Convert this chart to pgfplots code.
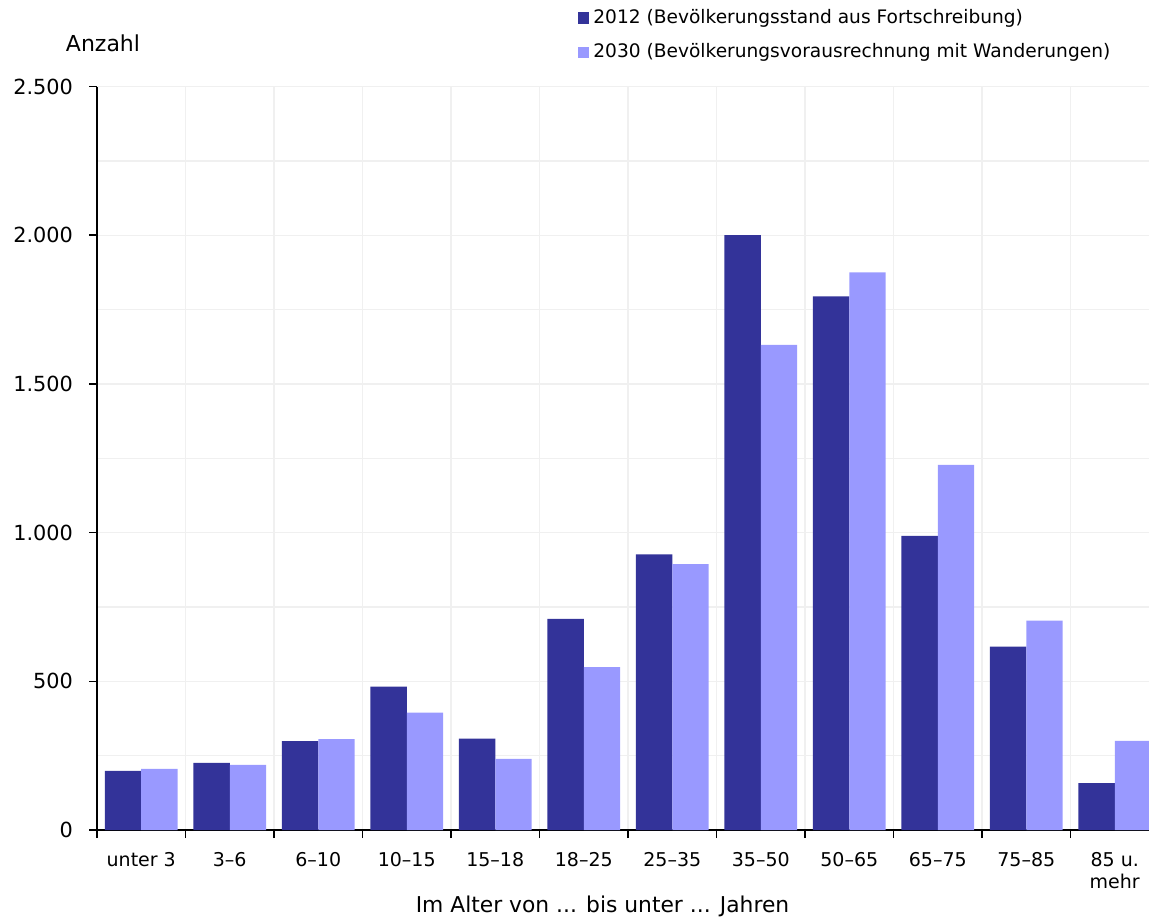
\documentclass[border=0pt]{standalone}
\usepackage{pgfplots}
\pgfplotsset{compat=1.18}
\usepackage{fontspec}
\setmainfont{DejaVu Sans}
\definecolor{darkbar}{HTML}{333399}
\definecolor{lightbar}{HTML}{9999FF}
\definecolor{gridc}{HTML}{F0F0F0}
\begin{document}
\begin{tikzpicture}
\useasboundingbox (-48.5pt,-44pt) rectangle (526pt,415pt);
\begin{axis}[
  at={(0pt,0pt)}, anchor=south west,
  scale only axis, width=526pt, height=371.75pt,
  xmin=-0.5, xmax=11.387, ymin=0, ymax=2500,
  axis x line*=bottom, axis y line*=left,
  axis line style={-, line width=0.9pt, black},
  tick align=outside, major tick length=4pt, minor tick length=0pt,
  tick style={black, line width=0.8pt},
  xtick={-0.5,0.5,...,11.5}, xticklabels={},
  extra x ticks={0,1,2,3,4,5,6,7,8,9,10,11},
  extra x tick labels={unter 3,3–6,6–10,10–15,15–18,18–25,25–35,35–50,50–65,65–75,75–85,85 u.\\mehr},
  extra x tick style={major tick length=0pt, grid=none,
    tick label style={align=center, font=\fontsize{9.5}{11}\selectfont, yshift=-7.5pt}},
  ytick={0,500,...,2500}, minor ytick={250,750,...,2250},
  xmajorgrids, ymajorgrids, yminorgrids,
  major grid style={gridc, line width=0.7pt},
  minor grid style={gridc, line width=0.7pt},
  yticklabel style={font=\fontsize{10.4}{12}\selectfont, xshift=-4.5pt},
  /pgf/number format/assume math mode=true,
  /pgf/number format/1000 sep={.},
  scaled y ticks=false,
  ylabel={Anzahl}, xlabel={Im Alter von ... bis unter ... Jahren},
  every axis y label/.style={at={(rel axis cs:0.0057,1.0585)}, anchor=center, font=\fontsize{11}{13}\selectfont},
  every axis x label/.style={at={(rel axis cs:0.4805,0)}, anchor=center, yshift=-38pt, font=\fontsize{10.9}{13}\selectfont},
  ybar, bar width=0.41,
  legend style={at={(rel axis cs:0.4572,1.1095)}, anchor=north west, draw=none, fill=none,
    font=\fontsize{9.3}{11}\selectfont, inner sep=0pt, row sep=4.5pt,
    /tikz/every even column/.append style={column sep=1pt}},
  legend cell align=left,
]
\addplot[fill=darkbar, draw=none, bar shift=-0.205,
  legend image code/.code={\fill[darkbar] (0pt,-2.8pt) rectangle (5.5pt,2.8pt);}]
  coordinates {(0,199) (1,226) (2,299) (3,482) (4,307) (5,710) (6,927) (7,2000) (8,1794) (9,989) (10,617) (11,158)};
\addlegendentry{2012 (Bevölkerungsstand aus Fortschreibung)}
\addplot[fill=lightbar, draw=none, bar shift=0.205,
  legend image code/.code={\fill[lightbar] (0pt,-2.8pt) rectangle (5.5pt,2.8pt);}]
  coordinates {(0,206) (1,219) (2,306) (3,395) (4,239) (5,548) (6,894) (7,1631) (8,1875) (9,1228) (10,704) (11,300)};
\addlegendentry{2030 (Bevölkerungsvorausrechnung mit Wanderungen)}
\end{axis}
\end{tikzpicture}
\end{document}
